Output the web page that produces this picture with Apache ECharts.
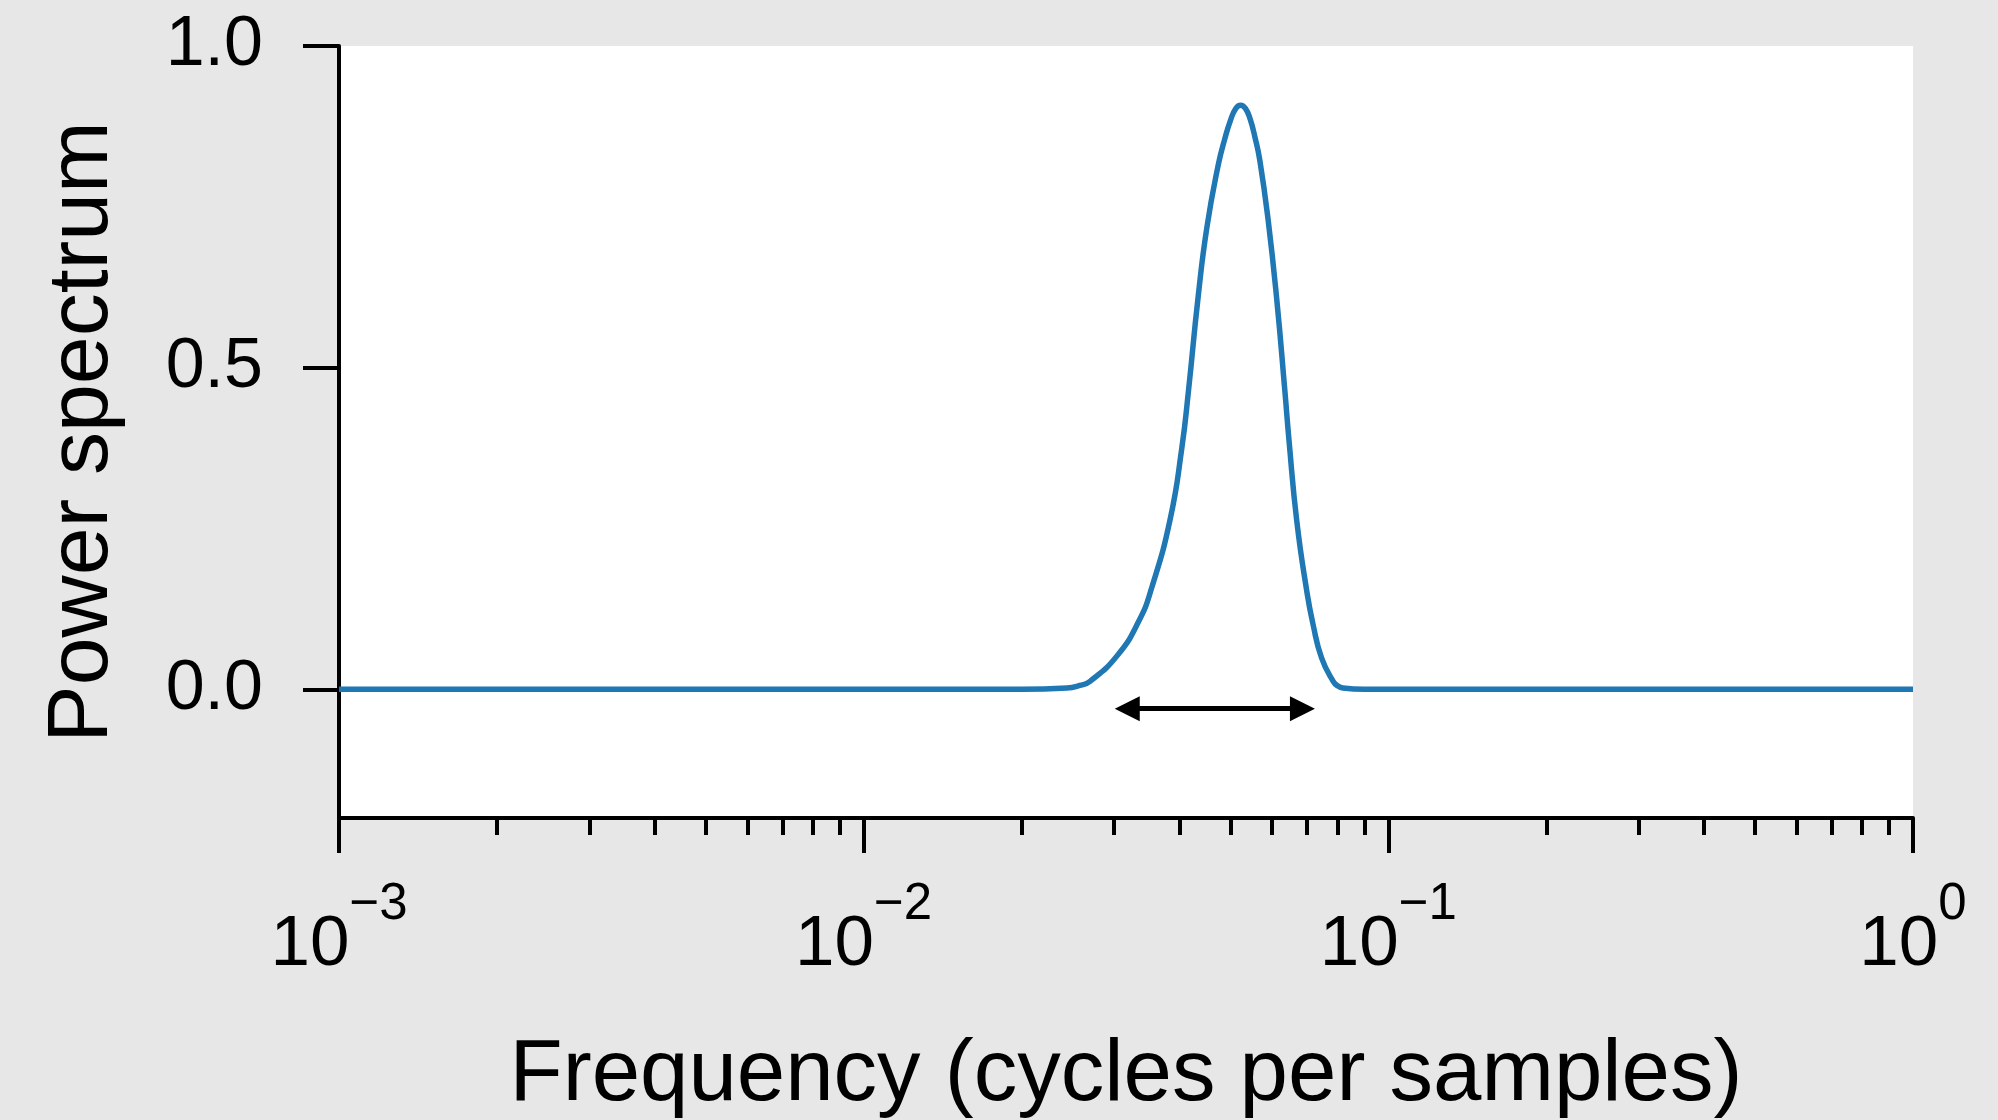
<!DOCTYPE html>
<html>
<head>
<meta charset="utf-8">
<title>Power spectrum</title>
<script src="https://cdn.jsdelivr.net/npm/echarts@6/dist/echarts.min.js"></script>
<style>
html, body { margin: 0; padding: 0; background: #e6e7e6; }
#main { width: 1998px; height: 1120px; }
</style>
</head>
<body>
<div id="main"></div>
<script>
// values
var freq  = [0.001, 0.02, 0.0244, 0.0258, 0.0270, 0.0304, 0.0334, 0.0354, 0.0384, 0.0404, 0.0416, 0.0434, 0.0451, 0.0474, 0.0488, 0.0500, 0.0512,
             0.0523, 0.0534, 0.0545, 0.0557, 0.0569, 0.0590, 0.0613, 0.0635, 0.0647, 0.0669, 0.0699, 0.0719, 0.0746, 0.0785, 0.0802, 0.0819, 0.09, 1];
var power = [0, 0, 0.002, 0.006, 0.0125, 0.052, 0.105, 0.158, 0.265, 0.375, 0.464, 0.610, 0.718, 0.815, 0.856, 0.884, 0.903,
             0.908, 0.903, 0.887, 0.858, 0.822, 0.730, 0.605, 0.464, 0.385, 0.262, 0.153, 0.100, 0.049, 0.0125, 0.005, 0.002, 0, 0];

// x ticks (log axis)
var xMajor = [0.001, 0.01, 0.1, 1];
var xExp = ['\u22123', '\u22122', '\u22121', '0'];
var xMinor = [0.002, 0.003, 0.004, 0.005, 0.006, 0.007, 0.008, 0.009,
              0.02, 0.03, 0.04, 0.05, 0.06, 0.07, 0.08, 0.09,
              0.2, 0.3, 0.4, 0.5, 0.6, 0.7, 0.8, 0.9];
// y ticks
var yTicks = [0, 0.5, 1];

// double arrow under the peak (arrowhead centres)
var arrowFrom = 0.0318, arrowTo = 0.0686, arrowLevel = -0.030;

var FONT = "'Liberation Sans', Arial, sans-serif";

var chart = echarts.init(document.getElementById('main'));

function expLabel(v) {
    var best = 0;
    for (var i = 1; i < xMajor.length; i++) {
        if (Math.abs(Math.log10(v) - Math.log10(xMajor[i])) < Math.abs(Math.log10(v) - Math.log10(xMajor[best]))) best = i;
    }
    return '{b|10}{s|' + xExp[best] + '}';
}

chart.setOption({
    backgroundColor: '#e6e7e6',
    animation: false,
    grid: {
        left: 339, right: 85, top: 46, bottom: 302,
        show: true, backgroundColor: '#ffffff', borderWidth: 0,
        outerBoundsMode: 'none'
    },
    xAxis: [{
        type: 'log',
        logBase: 10,
        min: 0.001,
        max: 1,
        position: 'bottom',
        name: 'Frequency (cycles per samples)',
        nameLocation: 'middle',
        nameGap: 215,
        nameTextStyle: { fontSize: 87, fontFamily: FONT, color: '#000' },
        axisLine: { onZero: false, lineStyle: { color: '#000', width: 4 } },
        axisTick: { customValues: xMajor, length: 35, lineStyle: { color: '#000', width: 4 } },
        axisLabel: {
            customValues: xMajor,
            margin: 77,
            formatter: expLabel,
            rich: {
                // both tokens 100px tall, padding decides where the glyphs sit
                b: { fontSize: 71, lineHeight: 70, padding: [30, 0, 0, 0], verticalAlign: 'middle', fontFamily: FONT, color: '#000' },
                s: { fontSize: 51, lineHeight: 49, padding: [0, 0, 51, 0], verticalAlign: 'middle', fontFamily: FONT, color: '#000' }
            }
        },
        splitLine: { show: false }
    }, {
        // minor ticks only
        type: 'log',
        logBase: 10,
        min: 0.001,
        max: 1,
        position: 'bottom',
        axisLine: { show: false, onZero: false },
        axisTick: { customValues: xMinor, length: 17, lineStyle: { color: '#000', width: 4 } },
        axisLabel: { show: false },
        splitLine: { show: false }
    }],
    yAxis: {
        type: 'value',
        min: -0.2,
        max: 1,
        name: 'Power spectrum',
        nameLocation: 'middle',
        nameGap: 213,
        nameRotate: 90,
        nameTextStyle: { fontSize: 86, fontFamily: FONT, color: '#000' },
        axisLine: { show: true, onZero: false, lineStyle: { color: '#000', width: 4 } },
        axisTick: { show: true, customValues: yTicks, length: 36, lineStyle: { color: '#000', width: 4 } },
        axisLabel: {
            customValues: yTicks,
            margin: 76,
            fontSize: 70,
            fontFamily: FONT,
            color: '#000',
            formatter: function (v) { return v.toFixed(1); }
        },
        splitLine: { show: false }
    },
    series: [{
        name: 'power',
        type: 'line',
        xAxisIndex: 0,
        data: freq.map(function (f, i) { return [f, power[i]]; }),
        showSymbol: false,
        symbol: 'none',
        smooth: 0.5,
        lineStyle: { color: '#1f77b4', width: 5.5 },
        markLine: {
            silent: true,
            animation: false,
            symbol: ['triangle', 'triangle'],
            symbolSize: [25, 25],
            label: { show: false },
            lineStyle: { color: '#000', width: 5, type: 'solid' },
            data: [[{ coord: [arrowFrom, arrowLevel] }, { coord: [arrowTo, arrowLevel] }]]
        }
    }]
});
</script>
</body>
</html>
